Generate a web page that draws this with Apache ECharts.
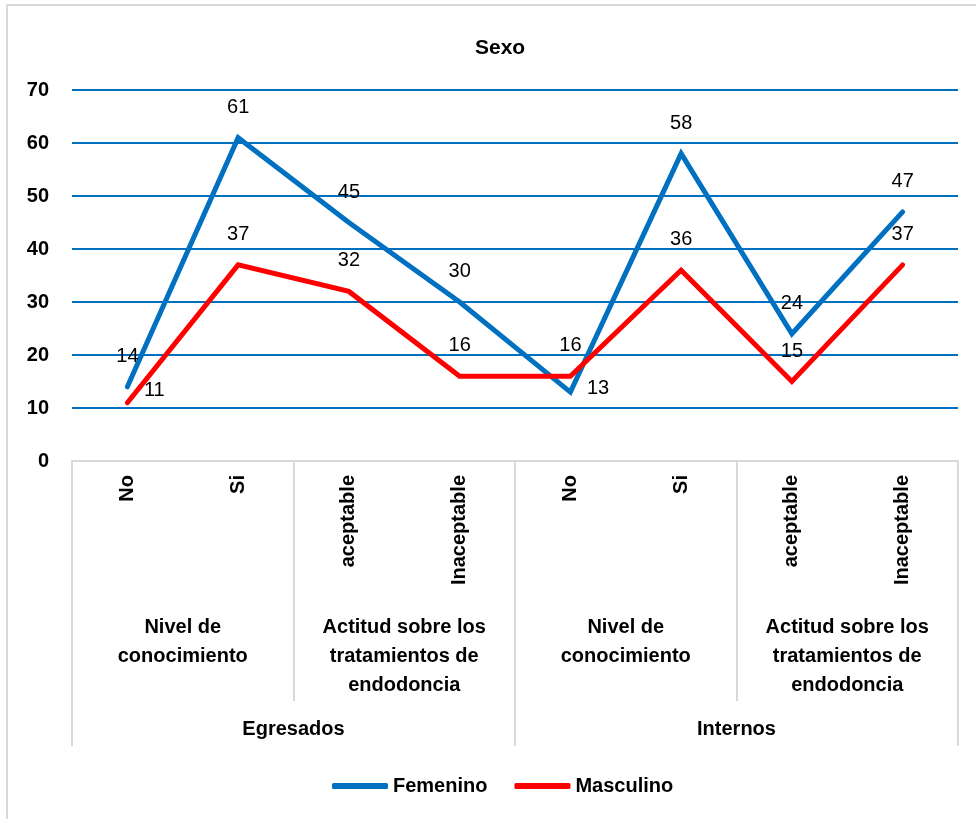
<!DOCTYPE html>
<html>
<head>
<meta charset="utf-8">
<title>Sexo</title>
<script src="https://cdn.jsdelivr.net/npm/echarts@6/dist/echarts.min.js"></script>
<style>
  html, body { margin: 0; padding: 0; background: #ffffff; }
  #chart { width: 976px; height: 819px; }
</style>
</head>
<body>
<div id="chart"></div>
<script>
// Answer categories (innermost axis level)
const answers = ['No', 'Si', 'aceptable', 'Inaceptable', 'No', 'Si', 'aceptable', 'Inaceptable'];
// Question groups (middle axis level)
const questions = [
  'Nivel de\nconocimiento',
  'Actitud sobre los\ntratamientos de\nendodoncia',
  'Nivel de\nconocimiento',
  'Actitud sobre los\ntratamientos de\nendodoncia'
];
// Population groups (outer axis level)
const groups = ['Egresados', 'Internos'];

// Counts per sex
const femenino = [14, 61, 45, 30, 13, 58, 24, 47];
const masculino = [11, 37, 32, 16, 16, 36, 15, 37];

const FONT = '"Liberation Sans", Arial, sans-serif';
const BLUE = '#0070C0';
const RED = '#FF0000';
const RULE = '#d9d9d9';

// Labels that sit beside the point instead of above it
const sideLabels = {
  'Femenino': { 4: [0, -4] },
  'Masculino': { 0: [0, -12] }
};

function buildData(name, values) {
  const side = sideLabels[name] || {};
  return values.map((v, i) => {
    if (side[i]) {
      return { value: v, label: { position: 'right', distance: 16, offset: side[i] } };
    }
    return v;
  });
}

function lineSeries(name, values, color) {
  return {
    name: name,
    type: 'line',
    data: buildData(name, values),
    symbol: 'circle',
    symbolSize: 1,
    itemStyle: { color: color },
    lineStyle: { color: color, width: 5, cap: 'round', join: 'miter' },
    label: {
      show: true,
      position: 'top',
      distance: 20,
      color: '#000',
      fontFamily: FONT,
      fontSize: 20
    },
    emphasis: { disabled: true },
    animation: false
  };
}

const chart = echarts.init(document.getElementById('chart'), null, { renderer: 'canvas' });

chart.setOption({
  backgroundColor: '#ffffff',
  animation: false,
  graphic: [{
    type: 'rect',
    shape: { x: 7, y: 5, width: 1000, height: 1000 },
    style: { fill: 'none', stroke: RULE, lineWidth: 2 },
    silent: true,
    z: -1
  }],
  title: {
    text: 'Sexo',
    left: 470,
    top: 33,
    textStyle: { fontFamily: FONT, fontSize: 21, fontWeight: 'bold', color: '#000' }
  },
  legend: {
    left: 327,
    top: 771,
    icon: 'roundRect',
    itemWidth: 56,
    itemHeight: 6,
    itemGap: 27,
    textStyle: { fontFamily: FONT, fontSize: 20, fontWeight: 'bold', color: '#000' },
    data: ['Femenino', 'Masculino']
  },
  grid: { left: 72, right: 18, top: 90, bottom: 358, containLabel: false },
  xAxis: [
    {
      type: 'category',
      data: answers,
      position: 'bottom',
      boundaryGap: true,
      axisLine: { show: true, lineStyle: { color: RULE, width: 2 } },
      axisTick: { show: false },
      axisLabel: {
        interval: 0,
        rotate: 90,
        margin: 14,
        fontFamily: FONT,
        fontSize: 20,
        fontWeight: 'bold',
        color: '#000'
      }
    },
    {
      type: 'category',
      data: questions,
      position: 'bottom',
      boundaryGap: true,
      axisLine: { show: false },
      axisTick: { show: true, interval: 0, length: 240, lineStyle: { color: RULE, width: 2 } },
      axisLabel: {
        interval: 0,
        margin: 152,
        fontFamily: FONT,
        fontSize: 20,
        fontWeight: 'bold',
        lineHeight: 29,
        color: '#000',
        align: 'center'
      }
    },
    {
      type: 'category',
      data: groups,
      position: 'bottom',
      boundaryGap: true,
      axisLine: { show: false },
      axisTick: { show: true, interval: 0, length: 285, lineStyle: { color: RULE, width: 2 } },
      axisLabel: {
        interval: 0,
        margin: 258,
        fontFamily: FONT,
        fontSize: 20,
        fontWeight: 'bold',
        color: '#000'
      }
    }
  ],
  yAxis: {
    type: 'value',
    min: 0,
    max: 70,
    interval: 10,
    axisLine: { show: false },
    axisTick: { show: false },
    axisLabel: {
      margin: 23,
      fontFamily: FONT,
      fontSize: 20,
      fontWeight: 'bold',
      color: '#000'
    },
    splitLine: { show: true, lineStyle: { color: BLUE, width: 2 } }
  },
  series: [
    lineSeries('Femenino', femenino, BLUE),
    lineSeries('Masculino', masculino, RED)
  ]
});
</script>
</body>
</html>
